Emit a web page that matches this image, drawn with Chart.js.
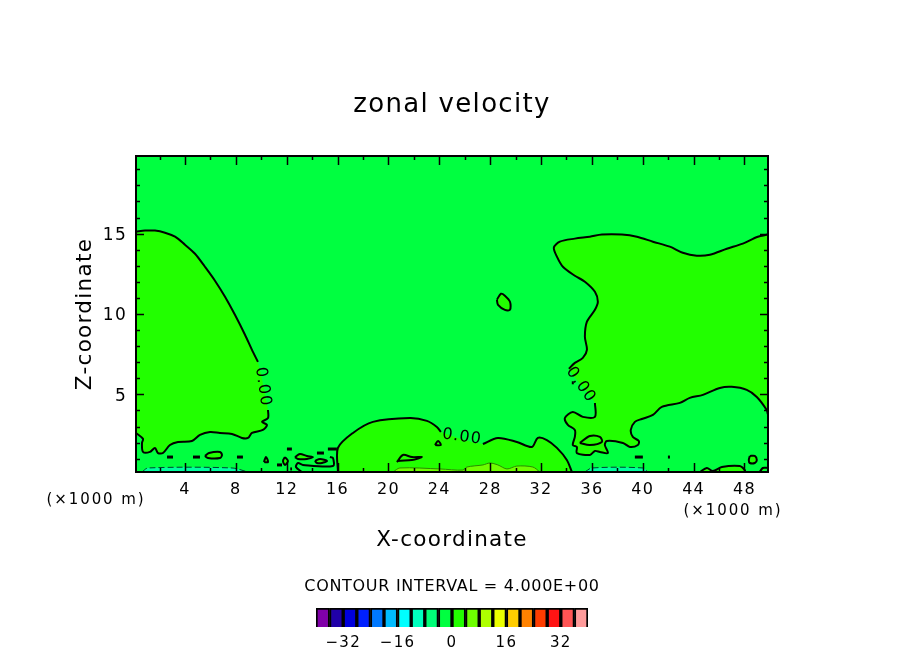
<html>
<head>
<meta charset="utf-8">
<script src="https://cdn.jsdelivr.net/npm/chart.js@4"></script>
<style>
body { margin:0; background:#fff; }
#main { position:absolute; left:0; top:0; }
#bar { position:absolute; left:276px; top:600px; }
</style>
</head>
<body>
<canvas id="main" width="904" height="654"></canvas>
<canvas id="bar" width="352" height="54"></canvas>
<script>
// axes (x in 1000 m, z in 1000 m)
var xRange = [0.15, 49.85];
var zRange = [0.17, 19.83];
var xMajor = [4, 8, 12, 16, 20, 24, 28, 32, 36, 40, 44, 48];
var xMinor = [2, 6, 10, 14, 18, 22, 26, 30, 34, 38, 42, 46];
var zMajor = [5, 10, 15];
var zMinor = [1, 2, 3, 4, 6, 7, 8, 9, 11, 12, 13, 14, 16, 17, 18, 19];

// contour outlines, null = gap in the line where a label sits
var leftLobe = [[.15,15.12],[.86,15.19],[1.64,15.19],[2.43,15.06],[3.22,14.81],[4,14.31],[4.79,13.75],[5.57,12.94],[6.36,12.07],[7.15,11.07],[7.93,9.95],[8.72,8.71],[9.27,7.77],[9.74,7.02],null,
  [10.53,4.03],[10.53,3.53],[10.06,3.29],[10.45,3.1],[10.13,2.79],[9.27,2.6],[8.96,2.29],[8.48,2.29],[7.7,2.54],[6.75,2.6],[5.97,2.66],[5.18,2.48],[4.55,2.1],[3.45,2.04],[2.82,1.85],[2.27,1.35],[1.88,1.35],[1.64,1.67],[1.25,1.42],[.7,1.42],[.62,1.98],[.7,2.23],[.15,2.6]];
var rightLobe = [[49.83,14.94],[49.05,14.81],[47.87,14.38],[46.61,14.06],[45.28,13.69],[44.25,13.63],[43.15,13.81],[42.13,14.19],[40.8,14.5],[39.54,14.81],[38.36,14.94],[36.79,14.94],[35.84,14.81],[34.66,14.69],[33.48,14.5],[33.01,14.13],[33.25,13.57],[33.72,12.94],[34.66,12.38],[35.45,12.01],[36.24,11.38],[36.47,10.76],[36.24,10.26],[35.61,9.52],[35.45,8.58],[35.61,7.77],[35.29,7.27],[34.66,6.96],[34.19,6.59],null,
  [36.24,4.47],[36.24,3.6],[35.29,3.6],[34.5,3.91],[33.88,3.53],[34.11,3.1],[34.66,2.79],[34.66,2.35],[34.5,1.85],[34.82,1.73],[34.82,1.35],[35.84,1.23],[36.24,1.48],[36.63,1.42],[37.26,1.35],[37.02,1.85],[37.18,2.1],[38.44,1.98],[38.99,1.73],[39.62,1.85],[39.69,2.1],[39.22,2.35],[39.06,2.79],[39.38,3.29],[39.93,3.47],[40.8,3.72],[41.5,4.22],[42.92,4.47],[43.7,4.78],[44.73,4.97],[46.06,5.4],[47,5.47],[48.18,5.28],[48.97,4.84],[49.75,4.03],[49.83,3.78]];
var midLobe = [[16.03,.17],[16.03,1.67],[17.21,2.6],[18.78,3.29],[21.69,3.53],[23.03,3.35],[23.81,2.97],[24.13,2.66],null,
  [27.43,1.91],[28.61,2.29],[30.1,2.04],[31.28,1.73],[31.75,2.29],[32.46,2.16],[33.25,1.67],[34.03,.92],[34.43,.17]];
var cornerA = [[44.49,.17],[45.04,.42],[45.51,.23],[46.22,.48],[47.63,.54],[48.03,.29],[48.03,.17]];
var cornerB = [[49.2,.17],[49.44,.42],[49.83,.42]];
var midCore = [[20.36,.17],[20.9,.42],[24.05,.36],[25.86,.29],[26.17,.48],[27.43,.61],[27.98,.73],[28.61,.61],[29.32,.36],[30.1,.54],[31.36,.48],[31.91,.17]];
var tealLeft = [[.62,.17],[1.09,.42],[7.7,.42],[8.96,.17]];
var tealRight = [[35.45,.17],[36,.42],[40.01,.42],[40.4,.17]];

// small closed cells
var cells = [
  [[28.53,10.89],[28.85,11.26],[29.16,11.14],[29.56,10.76],[29.56,10.26],[29.16,10.26],[28.62,10.57],[28.53,10.89]],
  [[5.57,1.17],[5.89,1.35],[6.75,1.42],[6.91,1.23],[6.75,1.04],[5.81,1.04],[5.57,1.17]],
  [[10.21,.79],[10.53,.79],[10.37,1.1],[10.21,.79]],
  [[11.86,1.1],[12.1,.86],[11.86,.61],[11.71,.86],[11.86,1.1]],
  [[12.65,1.1],[13.04,1.29],[13.59,1.17],[14.07,1.1],[13.59,.98],[12.89,.98],[12.65,1.1]],
  [[14.22,.86],[14.62,.98],[15.17,.86],[14.77,.73],[14.38,.73],[14.22,.86]],
  [[20.67,.79],[21.14,1.23],[21.85,1.1],[22.63,1.1],[21.85,.92],[20.75,.86],[20.67,.79]],
  [[23.66,1.85],[24.13,1.85],[23.9,2.1],[23.66,1.85]],
  [[48.42,1.17],[48.81,1.17],[48.97,.92],[48.81,.73],[48.42,.73],[48.34,.92],[48.42,1.17]],
  [[35.05,1.98],[35.84,2.41],[36.63,2.35],[36.79,2.04],[35.84,1.85],[35.05,1.98]]
];
var hook = [[13.2,.17],[12.73,.48],[12.89,.73],[13.28,.61],[15.64,.54],[15.64,1.04],[15.4,1.1]];
// short flecks of the contour near the ground
var flecks = [
  [[2.59,1.1],[3.06,1.1]],[[4.63,1.1],[5.18,1.1]],[[8.09,1.1],[8.56,1.1]],[[11.24,.61],[11.63,.61]],
  [[12.02,1.6],[12.41,1.6]],[[14.38,1.35],[14.93,1.35]],[[15.24,1.6],[15.95,1.6]],[[39.38,1.1],[40.01,1.1]],
  [[12.28,.36],[12.42,.36]],[[41.98,1.1],[42.14,1.1]],[[34.42,5.72],[34.58,5.72]]
];

var labelText = ["0.00", "0.00", "0.00"];
var labelX = [10.13, 35.13, 25.78];
var labelZ = [5.47, 5.59, 2.35];
var labelAngle = [82, 55, 8];

// colour key
var keyLevels = [-38,-34,-30,-26,-22,-18,-14,-10,-6,-2,2,6,10,14,18,22,26,30,34,38];
var keyColors = ["#8000a8","#2000a8","#0000dc","#0020ff","#0078ff","#00bcff","#00ffff","#00ffbe","#00ff78","#00ff40","#22ff00","#6eff00","#aeff00","#ebff00","#ffcd00","#ff8200","#ff3c00","#ff1414","#ff5555","#ff9b9b"];
var keyTicks = [-32, -16, 0, 16, 32];

var BACK = "#00ff40", LOBE = "#22ff00", CORE = "#6eff00", TEAL = "#00ffa0";
var FONT = "'DejaVu Sans'";

function pts(list) {
  return list.map(function (p) { return p ? {x:p[0], y:p[1]} : {x:null, y:null}; });
}
function area(list, color) {
  return {data:pts(list.filter(function (p) { return p; })), fill:"shape", backgroundColor:color, borderWidth:0, pointRadius:0, showLine:true, tension:.3};
}
function line(list, color, width, dash) {
  return {data:pts(list), fill:false, borderColor:color, borderWidth:width, borderDash:dash || [], pointRadius:0, showLine:true, spanGaps:false, tension:.3};
}

var sets = [
  area(leftLobe, LOBE), area(rightLobe, LOBE), area(midLobe, LOBE), area(cornerA, LOBE), area(cornerB, LOBE),
  area(midCore, CORE), area(tealLeft, TEAL), area(tealRight, TEAL)
];
cells.forEach(function (c) { sets.push(area(c, LOBE)); });
sets.push(line(midCore, "#2a8a00", 1));
sets.push(line(tealLeft, "#004030", 1, [6, 3]));
sets.push(line(tealRight, "#004030", 1, [6, 3]));
[leftLobe, rightLobe, midLobe, cornerA, cornerB, hook].forEach(function (c) { sets.push(line(c, "#000", 2)); });
cells.forEach(function (c) { sets.push(line(c, "#000", 2)); });
flecks.forEach(function (c) { sets.push(line(c, "#000", 3)); });
sets.forEach(function (s, i) { s.order = -i; });

var plotFrame = {
  id:"plotFrame",
  beforeDraw: function (chart) {
    chart.ctx.letterSpacing = "1.3px";
  },
  beforeDatasetsDraw: function (chart) {
    var a = chart.chartArea, c = chart.ctx;
    c.fillStyle = BACK;
    c.fillRect(a.left, a.top, a.width, a.height);
  },
  afterDatasetsDraw: function (chart) {
    var a = chart.chartArea, c = chart.ctx, sx = chart.scales.x, sy = chart.scales.y;
    c.save();
    c.strokeStyle = "#000";
    c.lineWidth = 1.5;
    function tickX(v, len) {
      var p = Math.round(sx.getPixelForValue(v)) + .5;
      c.beginPath();
      c.moveTo(p, a.bottom); c.lineTo(p, a.bottom - len);
      c.moveTo(p, a.top); c.lineTo(p, a.top + len);
      c.stroke();
    }
    function tickZ(v, len) {
      var p = Math.round(sy.getPixelForValue(v)) + .5;
      c.beginPath();
      c.moveTo(a.left, p); c.lineTo(a.left + len, p);
      c.moveTo(a.right, p); c.lineTo(a.right - len, p);
      c.stroke();
    }
    xMajor.forEach(function (v) { tickX(v, 9); });
    xMinor.forEach(function (v) { tickX(v, 4); });
    zMajor.forEach(function (v) { tickZ(v, 8); });
    zMinor.forEach(function (v) { tickZ(v, 4); });
    c.lineWidth = 2;
    c.strokeRect(a.left, a.top, a.width, a.height);

    // contour labels
    c.fillStyle = "#000";
    c.font = "16px " + FONT;
    c.letterSpacing = "1px";
    c.textAlign = "center";
    c.textBaseline = "middle";
    labelText.forEach(function (t, i) {
      c.save();
      c.translate(sx.getPixelForValue(labelX[i]), sy.getPixelForValue(labelZ[i]));
      c.rotate(labelAngle[i] * Math.PI / 180);
      c.fillText(t, 0, 0);
      c.restore();
    });

    // notes outside the plot
    c.font = "15px " + FONT;
    c.letterSpacing = "1.9px";
    c.fillText("(\u00d71000 m)", 96, 500);
    c.fillText("(\u00d71000 m)", 733, 511);
    c.font = "16px " + FONT;
    c.letterSpacing = "0.7px";
    c.fillText("CONTOUR INTERVAL = 4.000E+00", 452, 587);
    c.restore();
  }
};

new Chart(document.getElementById("main"), {
  type:"scatter",
  data:{datasets:sets},
  options:{
    responsive:false,
    animation:false,
    events:[],
    plugins:{
      legend:{display:false},
      tooltip:{enabled:false},
      title:{display:true, fullSize:true, text:"zonal velocity", color:"#000", font:{family:FONT, size:26, weight:"normal", lineHeight:1}, padding:{top:92, bottom:38}}
    },
    scales:{
      x:{
        type:"linear", min:xRange[0], max:xRange[1],
        grid:{display:false, drawTicks:false}, border:{display:false},
        afterFit:function (s) { s.height = 182; },
        afterBuildTicks:function (s) { s.ticks = xMajor.map(function (v) { return {value:v}; }); },
        ticks:{color:"#000", padding:8, maxRotation:0, autoSkip:false, font:{family:FONT, size:16}},
        title:{display:true, text:"X-coordinate", color:"#000", font:{family:FONT, size:21.5, lineHeight:1}, padding:{top:0, bottom:103}}
      },
      y:{
        type:"linear", min:zRange[0], max:zRange[1],
        grid:{display:false, drawTicks:false}, border:{display:false},
        afterFit:function (s) { s.width = 136; },
        afterBuildTicks:function (s) { s.ticks = zMajor.map(function (v) { return {value:v}; }); },
        ticks:{color:"#000", padding:9, labelOffset:2, autoSkip:false, font:{family:FONT, size:17}},
        title:{display:true, text:"Z-coordinate", color:"#000", font:{family:FONT, size:21.5, lineHeight:1}, padding:{top:75, bottom:0}}
      },
      // empty right margin so the title stays centred on the page
      yRight:{
        type:"linear", axis:"y", position:"right", min:zRange[0], max:zRange[1],
        grid:{display:false, drawTicks:false}, border:{display:false},
        ticks:{display:false},
        afterFit:function (s) { s.width = 136; }
      }
    }
  },
  plugins:[plotFrame]
});

new Chart(document.getElementById("bar"), {
  type:"bar",
  data:{datasets:[{
    data:keyLevels.map(function (v) { return {x:v, y:1}; }),
    backgroundColor:keyColors, borderColor:"#000", borderWidth:2,
    barPercentage:1, categoryPercentage:1
  }]},
  options:{
    responsive:false,
    animation:false,
    events:[],
    layout:{padding:{left:40, right:40, top:8}},
    plugins:{legend:{display:false}, tooltip:{enabled:false}},
    scales:{
      x:{
        type:"linear", min:-40, max:40, offset:false,
        grid:{display:false, drawTicks:false}, border:{display:false},
        afterFit:function (s) { s.height = 27; },
        afterBuildTicks:function (s) { s.ticks = keyTicks.map(function (v) { return {value:v}; }); },
        ticks:{color:"#000", padding:7, maxRotation:0, autoSkip:false, font:{family:FONT, size:15},
          callback:function (v) { return String(v).replace("-", "\u2212"); }}
      },
      y:{display:false, min:0, max:1}
    }
  },
  plugins:[{id:"spacing", beforeDraw:function (chart) { chart.ctx.letterSpacing = "1.3px"; }}]
});
</script>
</body>
</html>
